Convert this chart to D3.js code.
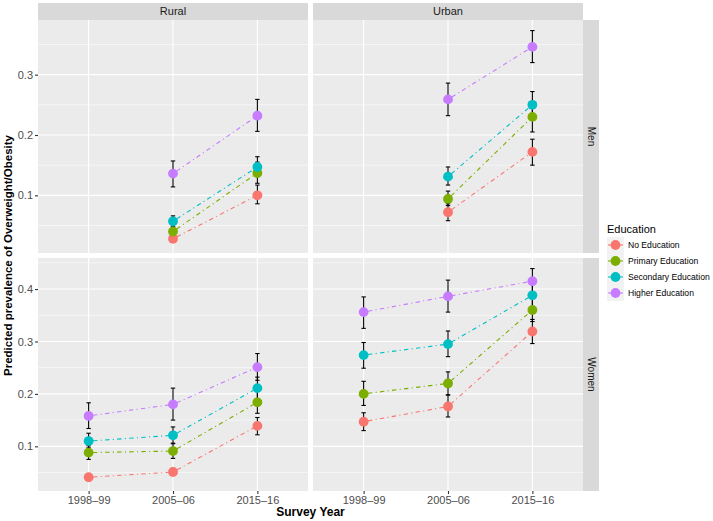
<!DOCTYPE html>
<html>
<head>
<meta charset="utf-8">
<script src="https://cdn.jsdelivr.net/npm/d3@7"></script>
<style>
  html, body { margin: 0; padding: 0; background: #ffffff; }
  svg { display: block; font-family: "Liberation Sans", Arial, Helvetica, sans-serif; }
</style>
</head>
<body>
<svg id="chart" width="713" height="521"></svg>
<script>
// ---------------- data ----------------
const years = ["1998–99", "2005–06", "2015–16"];
const areas = ["Rural", "Urban"];
const sexes = ["Men", "Women"];
const levels = ["No Education", "Primary Education", "Secondary Education", "Higher Education"];
const levelColors = ["#F8766D", "#7CAE00", "#00BFC4", "#C77CFF"];

// rows: levels; columns: years (null = not surveyed)
const menRuralValue = [
  [null, 0.028, 0.100],
  [null, 0.040, 0.137],
  [null, 0.057, 0.147],
  [null, 0.136, 0.232]
];
const menRuralLow = [
  [null, 0.022, 0.086],
  [null, 0.033, 0.120],
  [null, 0.049, 0.131],
  [null, 0.114, 0.206]
];
const menRuralHigh = [
  [null, 0.034, 0.117],
  [null, 0.047, 0.155],
  [null, 0.066, 0.164],
  [null, 0.157, 0.259]
];

const menUrbanValue = [
  [null, 0.072, 0.172],
  [null, 0.094, 0.230],
  [null, 0.131, 0.250],
  [null, 0.259, 0.346]
];
const menUrbanLow = [
  [null, 0.058, 0.150],
  [null, 0.083, 0.205],
  [null, 0.117, 0.230],
  [null, 0.232, 0.320]
];
const menUrbanHigh = [
  [null, 0.086, 0.193],
  [null, 0.107, 0.255],
  [null, 0.147, 0.272],
  [null, 0.286, 0.373]
];

const womenRuralValue = [
  [0.041, 0.051, 0.139],
  [0.088, 0.091, 0.184],
  [0.110, 0.121, 0.211],
  [0.158, 0.180, 0.251]
];
const womenRuralLow = [
  [0.035, 0.045, 0.122],
  [0.075, 0.077, 0.163],
  [0.097, 0.106, 0.190],
  [0.134, 0.150, 0.226]
];
const womenRuralHigh = [
  [0.047, 0.058, 0.155],
  [0.101, 0.105, 0.205],
  [0.125, 0.137, 0.232],
  [0.183, 0.211, 0.277]
];

const womenUrbanValue = [
  [0.147, 0.176, 0.319],
  [0.200, 0.220, 0.360],
  [0.274, 0.295, 0.388],
  [0.356, 0.386, 0.415]
];
const womenUrbanLow = [
  [0.130, 0.156, 0.296],
  [0.178, 0.198, 0.338],
  [0.249, 0.271, 0.365],
  [0.325, 0.356, 0.390]
];
const womenUrbanHigh = [
  [0.164, 0.198, 0.342],
  [0.224, 0.242, 0.382],
  [0.298, 0.320, 0.410],
  [0.385, 0.417, 0.439]
];

const yTicksMen = [0.1, 0.2, 0.3];
const yTicksWomen = [0.1, 0.2, 0.3, 0.4];

const xTitle = "Survey Year";
const yTitle = "Predicted prevalence of Overweight/Obesity";
const legendTitle = "Education";

const panelData = {
  Men: {
    Rural: { v: menRuralValue, lo: menRuralLow, hi: menRuralHigh },
    Urban: { v: menUrbanValue, lo: menUrbanLow, hi: menUrbanHigh }
  },
  Women: {
    Rural: { v: womenRuralValue, lo: womenRuralLow, hi: womenRuralHigh },
    Urban: { v: womenUrbanValue, lo: womenUrbanLow, hi: womenUrbanHigh }
  }
};
const yTicksBySex = { Men: yTicksMen, Women: yTicksWomen };

// ---------------- layout ----------------
const svg = d3.select("#chart");
const colX = { Rural: [38, 308], Urban: [313, 583] };
const rowY = { Men: [20, 253], Women: [258, 491] };
const stripTop = [3, 20];
const stripRight = [583, 599];

const panelBg = "#EBEBEB";
const stripBg = "#D9D9D9";

// y scales per row (free y), domain expanded 5% like ggplot
const yScales = {};
sexes.forEach(s => {
  let mn = Infinity, mx = -Infinity;
  areas.forEach(a => {
    const d = panelData[s][a];
    d.lo.forEach(r => r.forEach(x => { if (x != null) mn = Math.min(mn, x); }));
    d.hi.forEach(r => r.forEach(x => { if (x != null) mx = Math.max(mx, x); }));
  });
  const pad = (mx - mn) * 0.05;
  yScales[s] = d3.scaleLinear().domain([mn - pad, mx + pad]).range([rowY[s][1], rowY[s][0]]);
});

const xScales = {};
areas.forEach(a => {
  xScales[a] = d3.scalePoint().domain(years).range(colX[a]).padding(0.6);
});

// panels
sexes.forEach(s => {
  const y = yScales[s];
  const [d0, d1] = y.domain();
  const minor = [];
  const ticks = yTicksBySex[s];
  const step = ticks[1] - ticks[0];
  for (let t = ticks[0] - step / 2; t <= d1; t += step) if (t >= d0) minor.push(+t.toFixed(4));
  areas.forEach(a => {
    const x = xScales[a];
    const g = svg.append("g");
    g.append("rect")
      .attr("x", colX[a][0]).attr("y", rowY[s][0])
      .attr("width", colX[a][1] - colX[a][0]).attr("height", rowY[s][1] - rowY[s][0])
      .attr("fill", panelBg);
    g.selectAll(".minor").data(minor).enter().append("line")
      .attr("x1", colX[a][0]).attr("x2", colX[a][1])
      .attr("y1", d => y(d)).attr("y2", d => y(d))
      .attr("stroke", "#FFFFFF").attr("stroke-width", 0.55);
    g.selectAll(".major").data(ticks).enter().append("line")
      .attr("x1", colX[a][0]).attr("x2", colX[a][1])
      .attr("y1", d => y(d)).attr("y2", d => y(d))
      .attr("stroke", "#FFFFFF").attr("stroke-width", 1.1);
    g.selectAll(".vmajor").data(years).enter().append("line")
      .attr("x1", d => x(d)).attr("x2", d => x(d))
      .attr("y1", rowY[s][0]).attr("y2", rowY[s][1])
      .attr("stroke", "#FFFFFF").attr("stroke-width", 1.1);

    const d = panelData[s][a];
    levels.forEach((lv, li) => {
      const pts = years.map((yr, yi) => ({ yr, v: d.v[li][yi] })).filter(p => p.v != null);
      const line = d3.line().x(p => x(p.yr)).y(p => y(p.v));
      g.append("path").datum(pts)
        .attr("d", line)
        .attr("fill", "none")
        .attr("stroke", levelColors[li])
        .attr("stroke-width", 1.1)
        .attr("stroke-dasharray", "1.1,3.3,4.4,3.3");
    });
    levels.forEach((lv, li) => {
      years.forEach((yr, yi) => {
        if (d.v[li][yi] == null) return;
        const cx = x(yr);
        const ylo = y(d.lo[li][yi]), yhi = y(d.hi[li][yi]);
        const eg = g.append("g").attr("stroke", "#000000").attr("stroke-width", 1.1);
        eg.append("line").attr("x1", cx).attr("x2", cx).attr("y1", ylo).attr("y2", yhi);
        eg.append("line").attr("x1", cx - 2.2).attr("x2", cx + 2.2).attr("y1", ylo).attr("y2", ylo);
        eg.append("line").attr("x1", cx - 2.2).attr("x2", cx + 2.2).attr("y1", yhi).attr("y2", yhi);
      });
    });
    levels.forEach((lv, li) => {
      years.forEach((yr, yi) => {
        if (d.v[li][yi] == null) return;
        g.append("circle").attr("cx", x(yr)).attr("cy", y(d.v[li][yi]))
          .attr("r", 4.9).attr("fill", levelColors[li]);
      });
    });

    if (s === "Women") {
      const ax = svg.append("g").attr("transform", `translate(0,${rowY[s][1]})`)
        .call(d3.axisBottom(x).tickSize(3).tickPadding(2));
      ax.select(".domain").remove();
      ax.selectAll(".tick line").attr("stroke", "#333333").attr("stroke-width", 1.1);
      ax.selectAll(".tick text").attr("fill", "#4D4D4D").style("font-size", "11px")
        .style("font-family", "'Liberation Sans', Arial, sans-serif");
    }
    if (s === "Men") {
      svg.append("rect").attr("x", colX[a][0]).attr("y", stripTop[0])
        .attr("width", colX[a][1] - colX[a][0]).attr("height", stripTop[1] - stripTop[0])
        .attr("fill", stripBg);
      svg.append("text").attr("x", (colX[a][0] + colX[a][1]) / 2).attr("y", (stripTop[0] + stripTop[1]) / 2)
        .attr("dy", "0.35em").attr("text-anchor", "middle")
        .attr("fill", "#1A1A1A").style("font-size", "11px").text(a);
    }
  });
  const ay = svg.append("g").attr("transform", `translate(${colX.Rural[0]},0)`)
    .call(d3.axisLeft(y).tickValues(ticks).tickFormat(d3.format(".1f")).tickSize(3).tickPadding(2));
  ay.select(".domain").remove();
  ay.selectAll(".tick line").attr("stroke", "#333333").attr("stroke-width", 1.1);
  ay.selectAll(".tick text").attr("fill", "#4D4D4D").style("font-size", "11px")
    .style("font-family", "'Liberation Sans', Arial, sans-serif");

  svg.append("rect").attr("x", stripRight[0]).attr("y", rowY[s][0])
    .attr("width", stripRight[1] - stripRight[0]).attr("height", rowY[s][1] - rowY[s][0])
    .attr("fill", stripBg);
  const cy = (rowY[s][0] + rowY[s][1]) / 2, cxs = (stripRight[0] + stripRight[1]) / 2;
  svg.append("text").attr("transform", `translate(${cxs},${cy}) rotate(90)`)
    .attr("dy", "0.35em").attr("text-anchor", "middle")
    .attr("fill", "#1A1A1A").style("font-size", "10px").text(s);
});

// axis titles
svg.append("text").attr("x", (colX.Rural[0] + colX.Urban[1]) / 2).attr("y", 516)
  .attr("text-anchor", "middle").attr("fill", "#000000")
  .style("font-size", "12px").style("font-weight", "bold").text(xTitle);
svg.append("text")
  .attr("transform", `translate(12,${(rowY.Men[0] + rowY.Women[1]) / 2}) rotate(-90)`)
  .attr("text-anchor", "middle").attr("fill", "#000000")
  .style("font-size", "11.5px").style("font-weight", "bold").text(yTitle);

// legend
const lg = svg.append("g").attr("transform", "translate(607,229)");
lg.append("text").attr("x", 0).attr("y", 0).attr("dy", "0.35em")
  .attr("fill", "#000000").style("font-size", "11px").text(legendTitle);
levels.forEach((lv, li) => {
  const ry = 16 + li * 16;
  const row = lg.append("g").attr("transform", `translate(0,${ry})`);
  row.append("rect").attr("x", 0).attr("y", -8).attr("width", 17).attr("height", 16)
    .attr("fill", "#F2F2F2");
  row.append("line").attr("x1", 1).attr("x2", 16).attr("y1", 0).attr("y2", 0)
    .attr("stroke", levelColors[li]).attr("stroke-width", 1.1);
  row.append("circle").attr("cx", 8.5).attr("cy", 0).attr("r", 4.9).attr("fill", levelColors[li]);
  row.append("text").attr("x", 21).attr("y", 0).attr("dy", "0.35em")
    .attr("fill", "#000000").style("font-size", "8.6px").text(lv);
});
</script>
</body>
</html>
